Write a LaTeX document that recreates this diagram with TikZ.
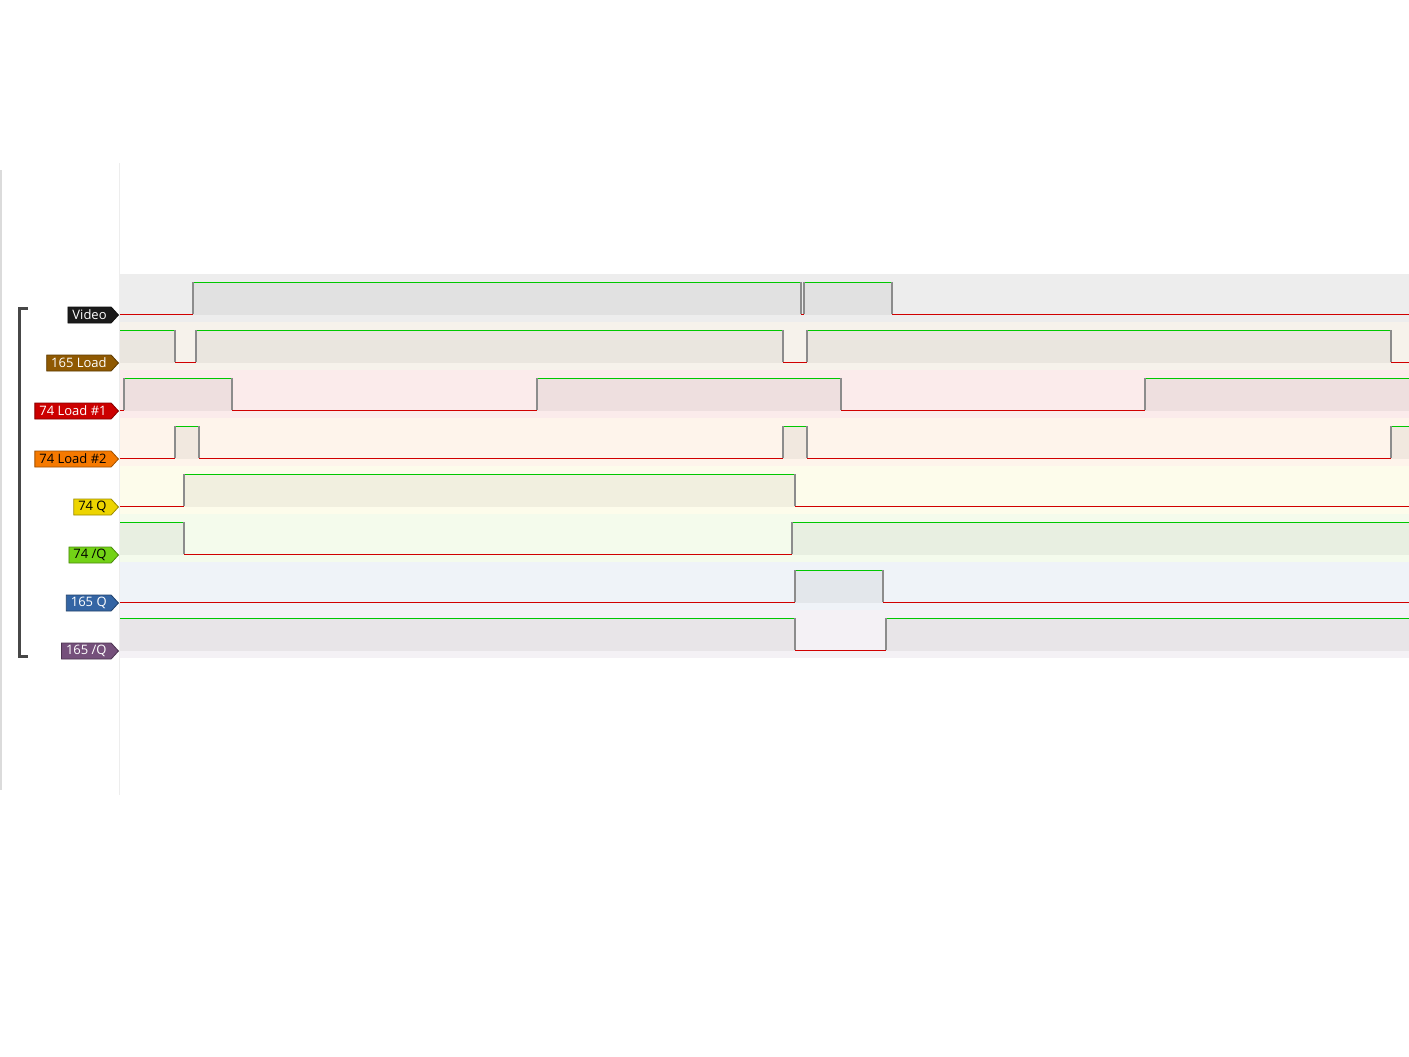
\documentclass[tikz,border=0pt]{standalone}
\usepackage{fontspec}
\setmainfont{Open Sans}
\usepackage{tikz}
\usetikzlibrary{shapes.symbols}

\definecolor{cvideo}{HTML}{1A1A1A}
\definecolor{cldsr}{HTML}{8F5902}
\definecolor{cldaa}{HTML}{CC0000}
\definecolor{cldab}{HTML}{F57900}
\definecolor{cqa}{HTML}{EDD400}
\definecolor{cnqa}{HTML}{73D216}
\definecolor{cqsr}{HTML}{3465A4}
\definecolor{cnqsr}{HTML}{75507B}
\definecolor{sighi}{HTML}{00C800}
\definecolor{siglo}{HTML}{D00000}

\tikzset{
  tag/.style={shape=signal, signal to=east, signal pointer angle=95,
    fill=#1, draw=#1!65!black, line width=0.8pt, minimum height=16pt,
    inner xsep=4.5pt, inner ysep=0pt, anchor=east,
    font=\fontsize{13}{13}\selectfont},
  lvlhi/.style={draw=sighi, line width=1pt},
  lvllo/.style={draw=siglo, line width=1pt},
  sigedge/.style={draw=black!45, line width=1.3pt},
}

% one row: baseline, colour, high intervals
\newcommand{\sigrow}[3]{%
  \fill[#2!8!white] (120,#1-40) rectangle (1409,#1+8);
  \draw[lvllo] (120,#1) -- (1409,#1);
  \foreach \a/\b in {#3} {
    \fill[#2!8!white!95!black] (\a,#1-32) rectangle (\b,#1+1);
    \draw[lvlhi] (\a,#1-32) -- (\b,#1-32);
    \ifnum\a>120 \draw[sigedge] (\a,#1-32) -- (\a,#1); \fi
    \ifnum\b<1409 \draw[sigedge] (\b,#1-32) -- (\b,#1); \fi
  }}

\begin{document}
\begin{tikzpicture}[x=1pt,y=-1pt]
\useasboundingbox (0,0) rectangle (1409,1057);
\draw[black!14, line width=1.5pt] (1,170) -- (1,790);
\draw[black!7, line width=1pt] (119.5,163) -- (119.5,795);

\sigrow{314}{cvideo}{193/801,804/892}
\sigrow{362}{cldsr}{120/175,196/783,807/1391}
\sigrow{410}{cldaa}{124/232,537/841,1145/1409}
\sigrow{458}{cldab}{175/199,783/807,1391/1409}
\sigrow{506}{cqa}{184/795}
\sigrow{554}{cnqa}{120/184,792/1409}
\sigrow{602}{cqsr}{795/883}
\sigrow{650}{cnqsr}{120/795,886/1409}

\node[tag=cvideo, text=white] (video) at (119,315) {Video};
\node[tag=cldsr, text=white] (ldsr) at (119,363) {165 Load};
\node[tag=cldaa, text=white] (ldaa) at (119,411) {74 Load \#1};
\node[tag=cldab, text=black] (ldab) at (119,459) {74 Load \#2};
\node[tag=cqa, text=black] (qa) at (119,507) {74 Q};
\node[tag=cnqa, text=black] (nqa) at (119,555) {74 /Q};
\node[tag=cqsr, text=white] (qsr) at (119,603) {165 Q};
\node[tag=cnqsr, text=white] (nqsr) at (119,651) {165 /Q};

% group bracket
\draw[black!72, line width=3pt] (28,308) -- (19,308) -- (19,656) -- (28,656);
\end{tikzpicture}
\end{document}
